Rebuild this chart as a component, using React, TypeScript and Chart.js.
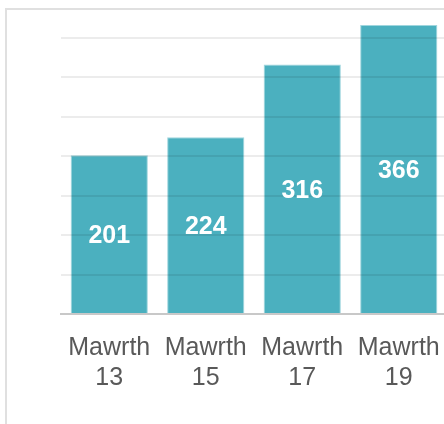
import React, { useEffect, useRef } from "react";
import { Chart, registerables } from "chart.js";

Chart.register(...registerables);

const categories: string[][] = [
  ["Mawrth", "13"],
  ["Mawrth", "15"],
  ["Mawrth", "17"],
  ["Mawrth", "19"],
];
const values: number[] = [201, 224, 316, 366];
const yMax = 366;
const yGridValues: number[] = [0, 50, 100, 150, 200, 250, 300, 350];

const FONT = "'Liberation Sans', Arial, Helvetica, sans-serif";

const barLabelPlugin = {
  id: "barLabels",
  afterDraw(chart: any) {
    const ctx = chart.ctx;
    const meta = chart.getDatasetMeta(0);
    ctx.save();
    ctx.fillStyle = "#ffffff";
    ctx.font = `bold 25px ${FONT}`;
    ctx.textAlign = "center";
    ctx.textBaseline = "middle";
    meta.data.forEach((el: any, i: number) => {
      const y = (el.y + el.base) / 2 + 2;
      ctx.fillText(String(values[i]), el.x, y);
    });
    ctx.restore();
  },
};

export default function App() {
  const ref = useRef<HTMLCanvasElement | null>(null);
  useEffect(() => {
    if (!ref.current) return;
    const chart = new Chart(ref.current, {
      type: "bar",
      data: {
        labels: categories,
        datasets: [
          {
            data: values,
            backgroundColor: "#4bb0bf",
            borderColor: "#9fd6de",
            borderWidth: 1,
            barPercentage: 0.8,
            categoryPercentage: 1,
          },
        ],
      },
      options: {
        animation: false,
        responsive: false,
        devicePixelRatio: 1,
        layout: { padding: { left: 54, right: 20, top: 15, bottom: 28 } },
        plugins: { legend: { display: false }, tooltip: { enabled: false } },
        scales: {
          x: {
            grid: { display: false, drawTicks: false },
            border: { display: true, color: "#c8c8c8", width: 2 },
            ticks: {
              color: "#595959",
              font: { family: FONT, size: 25 },
              padding: 19,
              maxRotation: 0,
              autoSkip: false,
            },
          },
          y: {
            min: 0,
            max: yMax,
            afterBuildTicks: (scale: any) => {
              scale.ticks = yGridValues.map((v) => ({ value: v }));
            },
            ticks: { display: false },
            border: { display: false },
            grid: {
              drawTicks: false,
              z: 1,
              lineWidth: 2,
              color: (c: any) =>
                c.tick && c.tick.value !== 0
                  ? "rgba(0,0,0,0.075)"
                  : "rgba(0,0,0,0)",
            },
          },
        },
      },
      plugins: [barLabelPlugin],
    });
    return () => chart.destroy();
  }, []);
  return (
    <div
      style={{
        position: "fixed",
        left: 5,
        top: 8,
        width: 460,
        height: 430,
        border: "2px solid #e0e0e0",
        background: "#fff",
      }}
    >
      <canvas ref={ref} width={460} height={430} style={{ display: "block" }} />
    </div>
  );
}
